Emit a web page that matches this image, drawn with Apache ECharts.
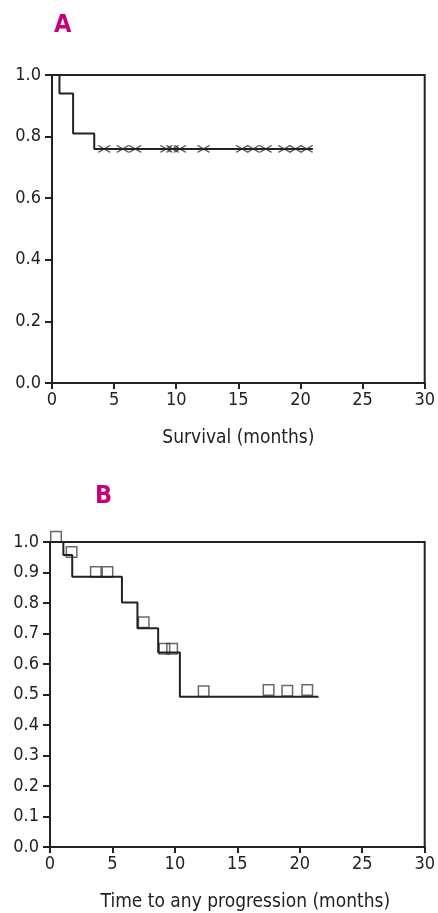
<!DOCTYPE html>
<html>
<head>
<meta charset="utf-8">
<script src="https://cdn.jsdelivr.net/npm/echarts@6/dist/echarts.min.js"></script>
<style>
html,body{margin:0;padding:0;background:#fff;}
#chart{width:438px;height:913px;}
</style>
</head>
<body>
<div id="chart"></div>
<script>
// ---- Panel A: overall survival ----
const stepTimesA = [0, 0.6, 1.7, 3.4, 21.0];
const stepSurvA  = [1.0, 0.94, 0.81, 0.76, 0.76];
const censorTimesA = [4.2, 5.7, 6.7, 9.2, 9.7, 10.3, 12.2, 15.3, 16.2, 17.2, 18.7, 19.6, 20.5];
const censorSurvA  = [0.76, 0.76, 0.76, 0.76, 0.76, 0.76, 0.76, 0.76, 0.76, 0.76, 0.76, 0.76, 0.76];

// ---- Panel B: time to any progression ----
const stepTimesB = [0, 1.07, 1.78, 5.76, 7.0, 8.66, 10.4, 21.5];
const stepSurvB  = [1.0, 0.957, 0.886, 0.802, 0.717, 0.638, 0.493, 0.493];
const censorTimesB = [0.48, 1.73, 3.67, 4.6, 7.5, 9.16, 9.78, 12.3, 17.5, 19.0, 20.6];
const censorSurvB  = [1.017, 0.967, 0.902, 0.902, 0.737, 0.65, 0.65, 0.511, 0.515, 0.512, 0.515];

// axis ticks / labels
const xTicks = [0, 5, 10, 15, 20, 25, 30];
const panelLabels = ['A', 'B'];
const xNames = ['Survival (months)', 'Time to any progression (months)'];

const zip = (xs, ys) => xs.map((x, i) => [x, ys[i]]);

const FONT = '"DejaVu Sans Condensed", "Liberation Sans", sans-serif';
const INK = '#222';

function xAxisFor(idx, name, namePad) {
  return {
    type: 'value', gridIndex: idx, min: xTicks[0], max: xTicks[xTicks.length - 1], interval: 5,
    name: name, nameLocation: 'middle', nameGap: 46,
    nameTextStyle: { fontFamily: FONT, fontSize: 19, color: INK, padding: namePad },
    axisLine: { show: true, onZero: false, lineStyle: { color: INK, width: 2 } },
    axisTick: { show: true, length: 6, inside: false, lineStyle: { color: INK, width: 2 } },
    axisLabel: { fontFamily: FONT, fontSize: 18, color: INK, margin: 8 },
    splitLine: { show: false }
  };
}
function yAxisFor(idx, interval) {
  return {
    type: 'value', gridIndex: idx, min: 0, max: 1, interval: interval,
    axisLine: { show: true, lineStyle: { color: INK, width: 2 } },
    axisTick: { show: true, length: 7, lineStyle: { color: INK, width: 2 } },
    axisLabel: { fontFamily: FONT, fontSize: 18, color: INK, margin: 11,
      formatter: v => v.toFixed(1) },
    splitLine: { show: false }
  };
}

const crossSymbol = 'path://M0,0L12,7M0,7L12,0';

const option = {
  animation: false,
  backgroundColor: '#fff',
  grid: [
    { left: 52, right: 11, top: 75, height: 308, show: true, borderColor: INK, borderWidth: 2, backgroundColor: 'transparent' },
    { left: 50, right: 11, top: 542, height: 306, show: true, borderColor: INK, borderWidth: 2, backgroundColor: 'transparent' }
  ],
  xAxis: [xAxisFor(0, xNames[0], [0,0,0,0]), xAxisFor(1, xNames[1], [0,0,0,16])],
  yAxis: [yAxisFor(0, 0.2), yAxisFor(1, 0.1)],
  graphic: [
    { type: 'text', left: 54, top: 13, style: { text: panelLabels[0], fontFamily: FONT, fontWeight: 'bold', fontSize: 25, fill: '#C4007A' } },
    { type: 'text', left: 95, top: 484, style: { text: panelLabels[1], fontFamily: FONT, fontWeight: 'bold', fontSize: 25, fill: '#C4007A' } }
  ],
  series: [
    {
      type: 'line', xAxisIndex: 0, yAxisIndex: 0, step: 'end',
      data: zip(stepTimesA, stepSurvA), showSymbol: false, symbol: 'none',
      lineStyle: { color: INK, width: 2 }
    },
    {
      type: 'scatter', xAxisIndex: 0, yAxisIndex: 0, clip: false,
      data: zip(censorTimesA, censorSurvA),
      symbol: crossSymbol, symbolSize: [12, 7],
      itemStyle: { color: 'rgba(0,0,0,0)', borderColor: '#333', borderWidth: 1.5 }
    },
    {
      type: 'line', xAxisIndex: 1, yAxisIndex: 1, step: 'end',
      data: zip(stepTimesB, stepSurvB), showSymbol: false, symbol: 'none',
      lineStyle: { color: INK, width: 2 }
    },
    {
      type: 'scatter', xAxisIndex: 1, yAxisIndex: 1, clip: false,
      data: zip(censorTimesB, censorSurvB),
      symbol: 'rect', symbolSize: 10.5,
      itemStyle: { color: 'rgba(0,0,0,0)', borderColor: '#444', borderWidth: 1.5 }
    }
  ]
};

const chart = echarts.init(document.getElementById('chart'), null, { renderer: 'canvas' });
chart.setOption(option);
</script>
</body>
</html>
